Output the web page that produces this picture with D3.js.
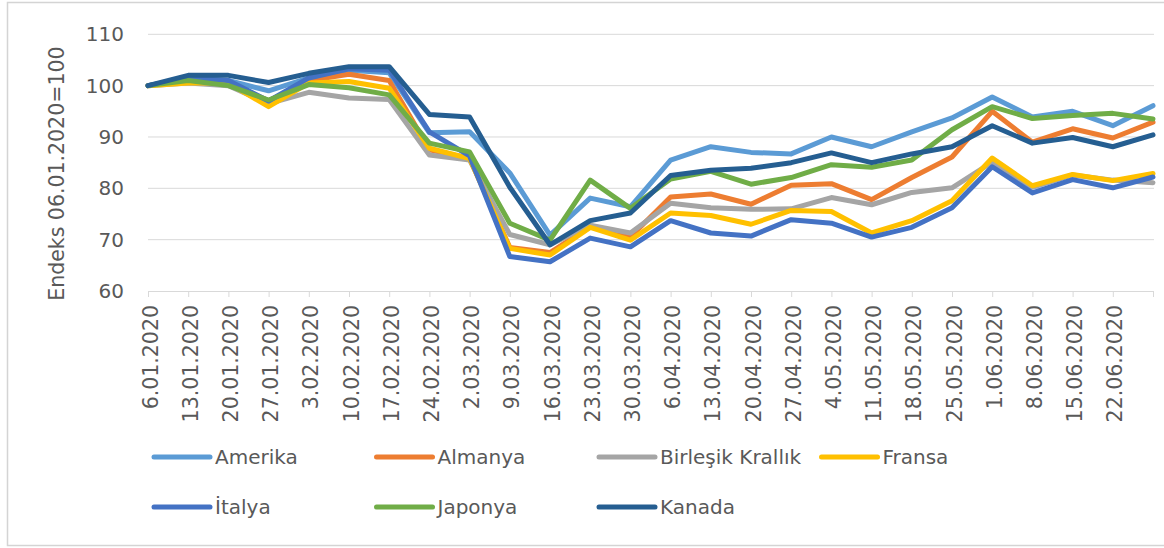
<!DOCTYPE html>
<html>
<head>
<meta charset="utf-8">
<script src="https://cdn.jsdelivr.net/npm/d3@7"></script>
<style>
  html, body { margin: 0; padding: 0; background: #fff; }
  text { font-family: "DejaVu Sans", sans-serif; fill: #595959; }
</style>
</head>
<body>
<div id="chart"></div>
<script>
const width = 1164;
const height = 548;

// weekly dates; the last week has no printed label in the original
const dates = ['6.01.2020', '13.01.2020', '20.01.2020', '27.01.2020', '3.02.2020', '10.02.2020',
    '17.02.2020', '24.02.2020', '2.03.2020', '9.03.2020', '16.03.2020', '23.03.2020', '30.03.2020',
    '6.04.2020', '13.04.2020', '20.04.2020', '27.04.2020', '4.05.2020', '11.05.2020', '18.05.2020',
    '25.05.2020', '1.06.2020', '8.06.2020', '15.06.2020', '22.06.2020', '29.06.2020'];
const hiddenLabels = ['29.06.2020'];

const yTicks = [60, 70, 80, 90, 100, 110];

const amerika = [100, 101.5, 101, 99, 101.5, 103, 102.5, 90.8, 91, 83, 70.9, 78.1, 76.4, 85.5, 88.1,
    87, 86.7, 90, 88.1, 91, 93.7, 97.8, 93.9, 95, 92.2, 96.1];
const almanya = [100, 101, 100.8, 97, 101, 102.2, 101, 87.5, 85.8, 68.5, 67.5, 72.5, 70.5, 78.3, 78.9,
    76.9, 80.6, 80.9, 77.8, 82.1, 86.1, 95, 89, 91.6, 89.8, 92.9];
const birlesik = [100, 100.5, 100, 96.5, 98.7, 97.6, 97.3, 86.5, 85.5, 71, 69, 72.8, 71.3, 77.1, 76.2,
    75.9, 76, 78.2, 76.8, 79.2, 80.1, 85.1, 80.2, 82.6, 81.6, 81.1];
const fransa = [100, 100.5, 100.5, 95.9, 100.5, 100.8, 99.5, 87.8, 85.8, 68.3, 67, 72.4, 69.9, 75.2, 74.7,
    73, 75.7, 75.5, 71.3, 73.7, 77.6, 85.9, 80.5, 82.7, 81.5, 82.9];
const italya = [100, 101.5, 101, 97, 101.5, 103.3, 103, 91, 86.3, 66.7, 65.7, 70.3, 68.6, 73.7, 71.3,
    70.7, 73.9, 73.2, 70.5, 72.4, 76.2, 84.2, 79.1, 81.7, 80.1, 82.2];
const japonya = [100, 101, 100, 97.2, 100.2, 99.6, 98.2, 88.8, 87.1, 73.2, 69.9, 81.6, 76.1, 81.8, 83.3,
    80.8, 82.1, 84.6, 84.1, 85.5, 91.4, 95.9, 93.6, 94.2, 94.6, 93.5];
const kanada = [100, 102, 102, 100.6, 102.4, 103.7, 103.7, 94.4, 93.9, 80.2, 69, 73.7, 75.2, 82.5, 83.5,
    83.9, 85, 86.9, 85, 86.7, 88.1, 92.2, 88.8, 89.9, 88.1, 90.4];

const seriesNames = ['Amerika', 'Almanya', 'Birleşik Krallık', 'Fransa', 'İtalya', 'Japonya', 'Kanada'];
const seriesValues = [amerika, almanya, birlesik, fransa, italya, japonya, kanada];
const seriesColors = ['#5b9bd5', '#ed7d31', '#a5a5a5', '#ffc000', '#4472c4', '#70ad47', '#255e91'];

const yTitle = 'Endeks 06.01.2020=100';

const svg = d3.select('#chart')
    .append('svg')
    .attr('width', width)
    .attr('height', height);

// outer frame
svg.append('rect')
    .attr('x', 7.5)
    .attr('y', 2.5)
    .attr('width', 1170)
    .attr('height', 543)
    .attr('fill', 'none')
    .attr('stroke', '#d4d4d4')
    .attr('stroke-width', 1.5);

const x = d3.scalePoint()
    .domain(dates)
    .range([148, 1153]);

const y = d3.scaleLinear()
    .domain([60, 110])
    .range([291, 34.3]);

// GRID
svg.append('g')
    .selectAll('line')
    .data(yTicks.slice(1))
    .join('line')
    .attr('x1', 148)
    .attr('x2', 1154)
    .attr('y1', (d) => y(d))
    .attr('y2', (d) => y(d))
    .attr('stroke', '#d9d9d9')
    .attr('stroke-width', 1);

// Y AXIS LABELS
const yAxis = svg.append('g')
    .attr('transform', 'translate(148 0)')
    .call(d3.axisLeft(y).tickValues(yTicks).tickSize(0).tickPadding(24));

yAxis.select('.domain').remove();
yAxis.selectAll('text')
    .style('font-size', '20px')
    .attr('fill', '#595959');

svg.append('text')
    .attr('transform', `translate(64 ${(y(60) + y(110)) / 2 + 11}) rotate(-90)`)
    .attr('text-anchor', 'middle')
    .style('font-size', '20.5px')
    .text(yTitle);

// X AXIS
const xAxis = svg.append('g')
    .attr('transform', `translate(0 ${y(60)})`)
    .call(d3.axisBottom(x)
        .tickSize(6)
        .tickSizeOuter(0)
        .tickFormat((d) => hiddenLabels.includes(d) ? '' : d));

xAxis.select('.domain')
    .attr('stroke', '#d9d9d9');
xAxis.selectAll('.tick line')
    .attr('stroke', '#d9d9d9');
xAxis.selectAll('.tick text')
    .attr('transform', 'rotate(-90)')
    .attr('text-anchor', 'end')
    .attr('x', -14)
    .attr('y', 2)
    .attr('dy', '0.35em')
    .attr('fill', '#595959')
    .style('font-size', '20.5px');

// LINES
const line = d3.line()
    .x((d, i) => x(dates[i]))
    .y((d) => y(d));

svg.append('g')
    .selectAll('path')
    .data(seriesValues)
    .join('path')
    .attr('d', line)
    .attr('fill', 'none')
    .attr('stroke', (d, i) => seriesColors[i])
    .attr('stroke-width', 5)
    .attr('stroke-linejoin', 'round')
    .attr('stroke-linecap', 'round');

// LEGEND
const legend = svg.append('g')
    .selectAll('g')
    .data(seriesNames)
    .join('g')
    .attr('transform', (d, i) => `translate(${152 + (i % 4) * 222.5} ${457 + Math.floor(i / 4) * 50})`);

legend.append('line')
    .attr('x1', 2)
    .attr('x2', 58)
    .attr('stroke', (d, i) => seriesColors[i])
    .attr('stroke-width', 5)
    .attr('stroke-linecap', 'round');

legend.append('text')
    .attr('x', 63)
    .attr('dy', '0.35em')
    .style('font-size', '20px')
    .text((d) => d);
</script>
</body>
</html>
